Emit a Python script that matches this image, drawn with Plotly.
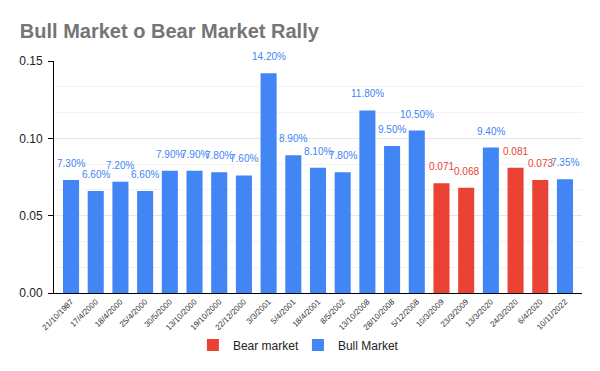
import plotly.graph_objects as go

dates = ["21/10/1987", "17/4/2000", "18/4/2000", "25/4/2000", "30/5/2000", "13/10/2000",
         "19/10/2000", "22/12/2000", "3/3/2001", "5/4/2001", "18/4/2001", "8/5/2002",
         "13/10/2008", "28/10/2008", "5/12/2008", "10/3/2009", "23/3/2009", "13/3/2020",
         "24/3/2020", "6/4/2020", "10/11/2022"]
values = [0.073, 0.066, 0.072, 0.066, 0.079, 0.079, 0.078, 0.076, 0.142, 0.089, 0.081,
          0.078, 0.118, 0.095, 0.105, 0.071, 0.068, 0.094, 0.081, 0.073, 0.0735]
kinds = ["bull", "bull", "bull", "bull", "bull", "bull", "bull", "bull", "bull", "bull",
         "bull", "bull", "bull", "bull", "bull", "bear", "bear", "bull", "bear", "bear", "bull"]
labels = ["7.30%", "6.60%", "7.20%", "6.60%", "7.90%", "7.90%", "7.80%", "7.60%", "14.20%",
          "8.90%", "8.10%", "7.80%", "11.80%", "9.50%", "10.50%", "0.071", "0.068", "9.40%",
          "0.081", "0.073", "7.35%"]

BLUE = "#4285F4"
RED = "#EA4335"

fig = go.Figure()
bear_x = [d for d, k in zip(dates, kinds) if k == "bear"]
bear_y = [v for v, k in zip(values, kinds) if k == "bear"]
bull_x = [d for d, k in zip(dates, kinds) if k == "bull"]
bull_y = [v for v, k in zip(values, kinds) if k == "bull"]

fig.add_trace(go.Bar(x=bear_x, y=bear_y, name="Bear market", marker_color=RED,
                     marker_line_width=0))
fig.add_trace(go.Bar(x=bull_x, y=bull_y, name="Bull Market", marker_color=BLUE,
                     marker_line_width=0))

for d, v, k, t in zip(dates, values, kinds, labels):
    fig.add_annotation(x=d, y=v, text=t, showarrow=False, yanchor="bottom", yshift=9,
                       font=dict(family="Arial", size=10, color=RED if k == "bear" else BLUE))

fig.update_layout(
    width=592, height=363,
    margin=dict(l=46, r=18, t=53, b=78),
    paper_bgcolor="white", plot_bgcolor="white",
    barmode="overlay", bargap=0.35,
    title=dict(text="<b>Bull Market o Bear Market Rally</b>", x=0.02, xanchor="left",
               y=0.937, yanchor="middle",
               font=dict(family="Arial", size=20, color="#757575")),
    font=dict(family="Arial", color="#222222"),
    showlegend=True,
    legend=dict(orientation="h", x=0.462, xanchor="center", y=-0.224, yanchor="middle",
                font=dict(size=12, color="#222222"), traceorder="normal",
                itemwidth=30, entrywidth=60),
    xaxis=dict(type="category", categoryorder="array", categoryarray=dates,
               range=[-0.69, 20.69], tickangle=-45, tickfont=dict(size=8, color="#333333"),
               showline=True, linecolor="black", linewidth=1, showgrid=False, ticks=""),
    yaxis=dict(range=[0, 0.15], dtick=0.05, tickformat=".2f",
               tickfont=dict(size=12, color="#222222"), ticklabelstandoff=3,
               showline=True, linecolor="black", linewidth=1, ticks="outside",
               ticklen=5, tickcolor="black", gridcolor="#e6e6e6", zeroline=False,
               minor=dict(dtick=0.05/3, showgrid=True, gridcolor="#f3f3f3")),
)

fig.write_html("out.html")
